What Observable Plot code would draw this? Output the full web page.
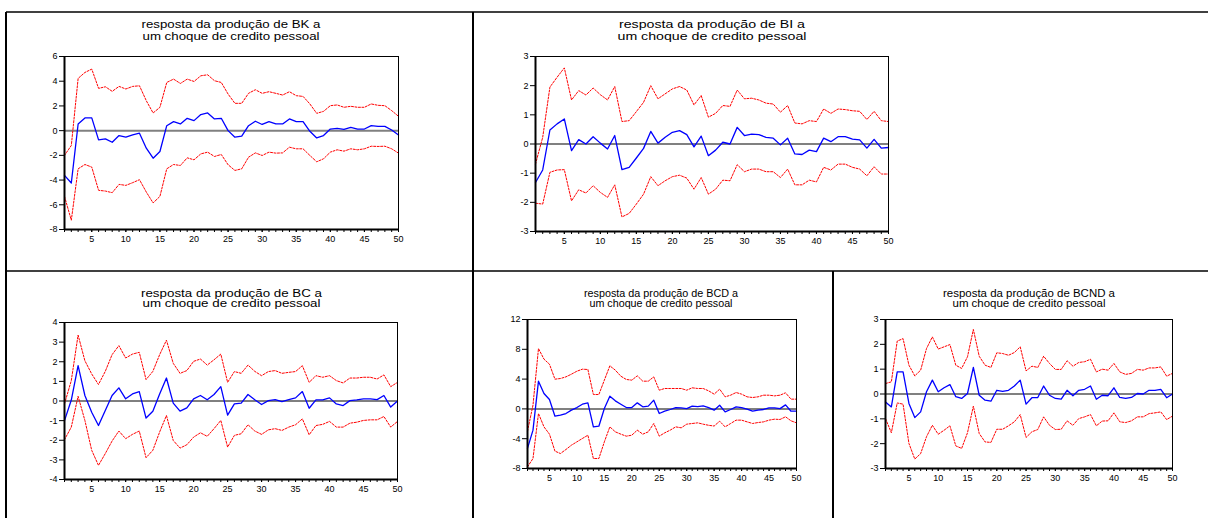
<!DOCTYPE html>
<html><head><meta charset="utf-8">
<script src="https://cdn.jsdelivr.net/npm/d3@7"></script>
<script src="https://cdn.jsdelivr.net/npm/@observablehq/plot@0.6"></script>
<style>
body{margin:0;background:#fff;}
#page{position:relative;width:1208px;height:518px;overflow:hidden;background:#fff;font-family:"Liberation Sans",Arial,sans-serif;}
.panel{position:absolute;}
#overlay{position:absolute;left:0;top:0;}
</style></head><body><div id="page"></div>
<script>
// ---------- data ----------
const periods = d3.range(1, 51);
const xTickLabels = [5,10,15,20,25,30,35,40,45,50];

const bkResp  = [-3.62,-4.24,0.54,1.03,1.03,-0.75,-0.67,-0.94,-0.40,-0.53,-0.34,-0.21,-1.42,-2.23,-1.69,0.40,0.73,0.54,1.00,0.81,1.30,1.43,0.95,1.00,0.00,-0.53,-0.45,0.40,0.76,0.50,0.73,0.54,0.54,0.95,0.73,0.73,-0.05,-0.59,-0.40,0.13,0.19,0.10,0.27,0.13,0.13,0.40,0.35,0.35,0.05,-0.35];
const bkUpper = [-2.00,-1.20,4.23,4.71,4.98,3.42,3.55,3.18,3.58,3.37,3.58,3.63,2.42,1.43,1.89,3.90,4.17,3.82,4.17,3.98,4.44,4.52,4.04,3.90,2.96,2.21,2.21,3.02,3.31,3.02,3.15,3.02,2.88,3.15,2.83,2.77,2.16,1.40,1.56,2.02,2.08,1.89,1.97,1.89,1.89,2.16,2.05,2.02,1.62,1.16];
const bkLower = [-5.32,-7.25,-3.09,-2.74,-2.95,-4.83,-4.89,-5.02,-4.35,-4.43,-4.21,-3.97,-4.97,-5.85,-5.32,-3.09,-2.74,-2.82,-2.20,-2.36,-1.88,-1.74,-2.09,-1.93,-2.76,-3.22,-3.09,-2.15,-1.80,-2.01,-1.74,-1.82,-1.80,-1.34,-1.47,-1.47,-2.01,-2.52,-2.28,-1.74,-1.55,-1.66,-1.47,-1.55,-1.47,-1.26,-1.28,-1.26,-1.47,-1.82];

const biResp  = [-1.32,-0.89,0.48,0.69,0.86,-0.23,0.15,0.00,0.25,0.03,-0.17,0.29,-0.88,-0.80,-0.48,-0.15,0.43,0.03,0.23,0.40,0.46,0.32,-0.10,0.27,-0.40,-0.21,0.06,0.00,0.57,0.29,0.34,0.32,0.23,0.20,-0.03,0.20,-0.34,-0.36,-0.21,-0.26,0.20,0.08,0.25,0.25,0.17,0.14,-0.14,0.16,-0.14,-0.12];
const biUpper = [-0.69,0.23,1.95,2.29,2.61,1.51,1.83,1.68,1.92,1.69,1.51,1.97,0.77,0.80,1.11,1.43,2.00,1.55,1.72,1.89,1.97,1.85,1.34,1.66,0.92,1.05,1.32,1.29,1.85,1.55,1.57,1.51,1.40,1.37,1.09,1.32,0.72,0.69,0.80,0.77,1.20,1.05,1.20,1.18,1.14,1.12,0.84,1.12,0.80,0.77];
const biLower = [-2.03,-2.06,-0.97,-0.89,-0.88,-1.95,-1.57,-1.68,-1.43,-1.66,-1.83,-1.40,-2.50,-2.38,-2.06,-1.72,-1.12,-1.43,-1.26,-1.12,-1.07,-1.17,-1.55,-1.15,-1.72,-1.55,-1.24,-1.26,-0.71,-0.95,-0.86,-0.86,-0.95,-0.95,-1.15,-0.86,-1.40,-1.40,-1.24,-1.30,-0.80,-0.89,-0.69,-0.69,-0.80,-0.86,-1.09,-0.78,-1.03,-1.03];

const bcResp  = [-1.00,0.05,1.80,0.28,-0.57,-1.25,-0.48,0.28,0.67,0.11,0.36,0.48,-0.87,-0.52,0.36,1.17,-0.11,-0.52,-0.35,0.11,0.28,0.06,0.33,0.73,-0.72,-0.15,-0.11,0.33,0.06,-0.18,0.02,0.07,-0.03,0.07,0.16,0.48,-0.37,0.06,0.06,0.16,-0.15,-0.23,0.02,0.06,0.11,0.11,0.07,0.28,-0.31,0.00];
const bcUpper = [-0.15,1.04,3.36,2.05,1.38,0.84,1.51,2.36,2.82,2.19,2.39,2.48,1.09,1.51,2.36,3.10,1.92,1.41,1.55,2.02,2.14,1.83,2.10,2.39,0.95,1.50,1.41,1.83,1.51,1.29,1.50,1.55,1.41,1.46,1.50,1.80,0.95,1.29,1.21,1.29,1.04,0.92,1.17,1.17,1.21,1.21,1.12,1.33,0.73,0.95];
const bcLower = [-1.97,-1.33,0.24,-0.99,-2.51,-3.28,-2.68,-2.04,-1.53,-1.92,-1.70,-1.53,-2.89,-2.51,-1.58,-0.74,-2.01,-2.40,-2.23,-1.84,-1.62,-1.80,-1.41,-0.99,-2.35,-1.75,-1.67,-1.21,-1.53,-1.70,-1.47,-1.41,-1.50,-1.33,-1.21,-0.91,-1.72,-1.25,-1.19,-1.04,-1.33,-1.33,-1.13,-1.08,-0.99,-0.96,-0.96,-0.79,-1.33,-1.04];

const bcdResp  = [-5.30,-2.85,3.72,2.07,1.26,-0.98,-0.85,-0.62,-0.17,0.18,0.63,0.81,-2.41,-2.32,0.05,1.71,1.08,0.63,0.18,0.18,0.81,0.28,0.37,1.17,-0.62,-0.31,-0.08,0.18,0.13,0.04,0.36,0.31,0.40,0.18,-0.17,0.49,-0.40,-0.08,0.27,0.18,-0.04,-0.31,-0.17,-0.08,0.13,0.13,0.04,0.54,-0.31,-0.31];
const bcdUpper = [-3.00,0.50,8.10,6.68,6.00,3.99,4.08,4.30,4.66,5.06,5.33,5.29,1.93,1.93,3.86,5.78,5.20,4.39,3.95,3.86,4.44,3.72,3.72,4.30,2.51,2.74,2.74,2.74,2.74,2.51,2.83,2.74,2.74,2.42,1.98,2.65,1.62,1.84,2.20,1.98,1.62,1.53,1.62,1.84,1.84,1.75,1.84,2.16,1.31,1.31];
const bcdLower = [-7.78,-6.66,-0.62,-2.41,-3.39,-5.67,-5.99,-5.45,-4.87,-4.42,-3.97,-3.53,-6.66,-6.66,-4.42,-2.41,-3.08,-3.39,-3.66,-3.53,-2.85,-3.39,-3.08,-1.96,-3.66,-3.21,-2.85,-2.41,-2.54,-2.05,-1.96,-1.87,-2.05,-2.20,-2.30,-1.65,-2.41,-1.96,-1.51,-1.51,-1.74,-1.96,-1.83,-1.74,-1.51,-1.38,-1.42,-1.06,-1.60,-1.87];

const bcndResp  = [-0.32,-0.52,0.89,0.89,-0.38,-0.95,-0.72,0.09,0.56,0.09,0.25,0.38,-0.11,-0.18,0.02,1.07,-0.05,-0.25,-0.29,0.15,0.11,0.15,0.32,0.56,-0.41,-0.15,-0.14,0.32,-0.05,-0.18,-0.21,0.15,-0.07,0.15,0.19,0.32,-0.21,-0.05,-0.07,0.25,-0.14,-0.18,-0.14,0.02,0.00,0.15,0.15,0.19,-0.15,0.00];
const bcndUpper = [0.42,0.49,2.13,2.23,1.16,0.73,0.96,1.83,2.30,1.81,1.90,1.99,1.16,1.03,1.50,2.60,1.52,1.16,1.07,1.66,1.63,1.56,1.67,1.90,0.93,1.12,1.07,1.52,1.23,0.99,0.99,1.34,1.12,1.27,1.30,1.40,0.89,1.00,0.96,1.23,0.89,0.79,0.83,0.99,0.96,1.05,1.05,1.09,0.72,0.83];
const bcndLower = [-0.99,-1.56,-0.36,-0.41,-1.99,-2.62,-2.40,-1.72,-1.26,-1.62,-1.46,-1.28,-2.09,-2.19,-1.56,-0.49,-1.59,-1.93,-1.95,-1.42,-1.42,-1.28,-1.12,-0.83,-1.75,-1.52,-1.43,-0.92,-1.26,-1.43,-1.42,-1.08,-1.26,-0.99,-0.92,-0.83,-1.28,-1.09,-1.08,-0.76,-1.12,-1.15,-1.08,-0.92,-0.92,-0.79,-0.76,-0.72,-1.03,-0.89];

const yTicksBK = [-8,-6,-4,-2,0,2,4,6];
const yTicksBI = [-3,-2,-1,0,1,2,3];
const yTicksBC = [-4,-3,-2,-1,0,1,2,3,4];
const yTicksBCD = [-8,-4,0,4,8,12];
const yTicksBCND = [-3,-2,-1,0,1,2,3];

const titlesBK = ["resposta da produção de BK a", "um choque de credito pessoal"];
const titlesBI = ["resposta da produção de BI a", "um choque de credito pessoal"];
const titlesBC = ["resposta da produção de BC a", "um choque de credito pessoal"];
const titlesBCD = ["resposta da produção de BCD a", "um choque de credito pessoal"];
const titlesBCND = ["resposta da produção de BCND a", "um choque de credito pessoal"];

// ---------- layout ----------
const panels = [
  {resp: bkResp, upper: bkUpper, lower: bkLower, yTicks: yTicksBK, titles: titlesBK,
   frame: {l: 64, r: 398, t: 56, b: 229}, title: {cx: 231, y1: 28, y2: 40, fs: 11, w1: 179, w2: 177}, zero: {c: "#808080", w: 2}},
  {resp: biResp, upper: biUpper, lower: biLower, yTicks: yTicksBI, titles: titlesBI,
   frame: {l: 535, r: 888, t: 56, b: 231}, title: {cx: 712, y1: 28, y2: 40, fs: 11, w1: 186, w2: 189}, zero: {c: "#808080", w: 2}},
  {resp: bcResp, upper: bcUpper, lower: bcLower, yTicks: yTicksBC, titles: titlesBC,
   frame: {l: 64, r: 397, t: 322, b: 479}, title: {cx: 231.5, y1: 297, y2: 307, fs: 10, w1: 181, w2: 178}, zero: {c: "#000", w: 1}},
  {resp: bcdResp, upper: bcdUpper, lower: bcdLower, yTicks: yTicksBCD, titles: titlesBCD,
   frame: {l: 527, r: 796, t: 319, b: 468}, title: {cx: 661, y1: 297, y2: 307, fs: 10, w1: 154, w2: 143}, zero: {c: "#808080", w: 2}},
  {resp: bcndResp, upper: bcndUpper, lower: bcndLower, yTicks: yTicksBCND, titles: titlesBCND,
   frame: {l: 885, r: 1172, t: 319, b: 468}, title: {cx: 1029, y1: 297, y2: 307, fs: 10, w1: 172, w2: 153}, zero: {c: "#808080", w: 2}}
];

const page = document.getElementById("page");

// overlay: table lines and titles
const svg = d3.select(page).append("svg").attr("id", "overlay").attr("width", 1208).attr("height", 518);
const hLines = [[6, 1208, 12], [6, 1208, 271]];
const vLines = [[6, 12, 518], [473, 12, 518], [833, 271, 518]];
hLines.forEach(([x1, x2, y]) => svg.append("line").attr("x1", x1).attr("x2", x2).attr("y1", y).attr("y2", y).attr("stroke", "#000").attr("stroke-width", 1.5));
vLines.forEach(([x, y1, y2]) => svg.append("line").attr("x1", x).attr("x2", x).attr("y1", y1).attr("y2", y2).attr("stroke", "#000").attr("stroke-width", 2));

panels.forEach(p => {
  const t = p.title;
  [[p.titles[0], t.y1, t.w1], [p.titles[1], t.y2, t.w2]].forEach(([s, y, w]) => {
    svg.append("text").attr("x", t.cx).attr("y", y).attr("text-anchor", "middle")
      .attr("font-family", "Liberation Sans, Arial, sans-serif").attr("font-size", t.fs)
      .attr("textLength", w).attr("lengthAdjust", "spacingAndGlyphs").attr("fill", "#000").text(s);
  });
});

// plots
const ml = 40, mr = 12, mt = 8, mb = 24;
panels.forEach(p => {
  const f = p.frame;
  const yDomain = [d3.min(p.yTicks), d3.max(p.yTicks)];
  const chart = Plot.plot({
    width: f.r - f.l + ml + mr,
    height: f.b - f.t + mt + mb,
    marginLeft: ml, marginRight: mr, marginTop: mt, marginBottom: mb,
    style: {fontFamily: "Liberation Sans, Arial, sans-serif", fontSize: "9px", color: "#000", background: "transparent", overflow: "visible"},
    x: {domain: [1, 50]},
    y: {domain: yDomain},
    marks: [
      Plot.ruleY([0], {stroke: p.zero.c, strokeWidth: p.zero.w}),
      Plot.lineY(p.upper, {x: periods, stroke: "#ff0000", strokeWidth: 1, strokeDasharray: "2,1.5"}),
      Plot.lineY(p.lower, {x: periods, stroke: "#ff0000", strokeWidth: 1, strokeDasharray: "2,1.5"}),
      Plot.lineY(p.resp, {x: periods, stroke: "#0000ff", strokeWidth: 1.3}),
      Plot.frame({stroke: "#000", strokeWidth: 1}),
      Plot.ruleX([1], {stroke: "#000", strokeWidth: 2}),
      Plot.ruleY([yDomain[0]], {stroke: "#000", strokeWidth: 2}),
      Plot.axisY({ticks: p.yTicks, tickSize: 5, tickPadding: 2, label: null, tickFormat: d => String(d), stroke: "#000"}),
      Plot.axisX({ticks: periods, tickSize: 3, label: null, fill: "none", stroke: "#000"}),
      Plot.axisX({ticks: xTickLabels, tickSize: 3, tickPadding: 3, label: null, tickFormat: d => String(d), stroke: "#000"})
    ]
  });
  chart.classList.add("panel");
  chart.style.left = (f.l - ml) + "px";
  chart.style.top = (f.t - mt) + "px";
  chart.style.position = "absolute";
  page.appendChild(chart);
});
</script></body></html>
